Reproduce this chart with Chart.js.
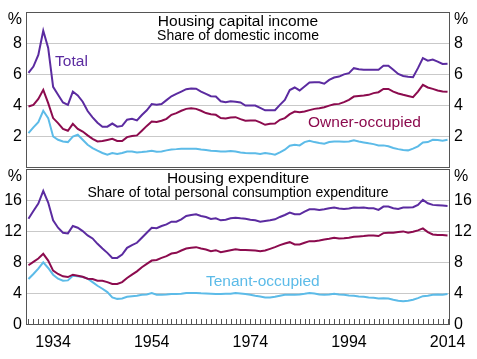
<!DOCTYPE html>
<html>
<head>
<meta charset="utf-8">
<script src="https://cdn.jsdelivr.net/npm/chart.js@4.4.1/dist/chart.umd.min.js"></script>
<style>
  html, body { margin: 0; padding: 0; background: #fff; }
  #wrap { position: relative; width: 477px; height: 359px; }
  #wrap canvas { position: absolute; left: 0; }
  #topPanel { top: 0; }
  #bottomPanel { top: 167px; }
</style>
</head>
<body>
<div id="wrap">
  <canvas id="topPanel" width="477" height="170"></canvas>
  <canvas id="bottomPanel" width="477" height="192"></canvas>
</div>
<script>
// === Data (annual, 1929-2014, per cent) ===
const years = Array.from({ length: 86 }, (_, i) => 1929 + i);
const yearTicks = [1934, 1954, 1974, 1994, 2014];

// Housing capital income, share of domestic income
const totalIncome = [
  6.1, 6.5, 7.25, 8.8, 7.7, 5.2, 4.7, 4.2, 4.05, 4.9,
  4.65, 4.25, 3.65, 3.25, 2.9, 2.65, 2.65, 2.85, 2.65, 2.7,
  3.1, 3.15, 3.05, 3.4, 3.7, 4.1, 4.05, 4.1, 4.35, 4.6,
  4.75, 4.9, 5.05, 5.1, 5.08, 4.9, 4.75, 4.6, 4.58, 4.28,
  4.22, 4.28, 4.25, 4.2, 4.0, 4.0, 4.0, 3.85, 3.7, 3.7,
  3.7, 4.05, 4.37, 5.0, 5.16, 4.97, 5.22, 5.48, 5.5, 5.5,
  5.4, 5.65, 5.8, 5.86, 6.0, 6.08, 6.4, 6.33, 6.3, 6.3,
  6.3, 6.3, 6.55, 6.55, 6.3, 6.03, 5.9, 5.85, 5.82, 6.4,
  7.04, 6.88, 6.95, 6.82, 6.67, 6.69
];
const ownerIncome = [
  3.94, 4.05, 4.43, 5.01, 4.16, 3.2, 2.88, 2.51, 2.39, 2.83,
  2.51, 2.34, 2.09, 1.87, 1.7, 1.73, 1.8, 1.87, 1.73, 1.73,
  1.98, 2.05, 2.09, 2.39, 2.7, 2.98, 2.95, 3.03, 3.15, 3.41,
  3.52, 3.67, 3.79, 3.83, 3.79, 3.67, 3.52, 3.45, 3.41, 3.2,
  3.17, 3.24, 3.26, 3.13, 3.03, 3.05, 3.05, 2.92, 2.77, 2.83,
  2.85, 3.09, 3.2, 3.45, 3.62, 3.58, 3.62, 3.71, 3.79, 3.83,
  3.9, 4.0, 4.09, 4.11, 4.22, 4.37, 4.58, 4.62, 4.65, 4.69,
  4.8, 4.86, 5.07, 5.07, 4.9, 4.78, 4.69, 4.62, 4.54, 4.9,
  5.33, 5.16, 5.07, 4.97, 4.9, 4.88
];
const tenantIncome = [
  2.24, 2.6, 2.94, 3.67, 3.2, 2.02, 1.81, 1.7, 1.66, 2.02,
  2.13, 1.81, 1.49, 1.28, 1.11, 0.96, 0.85, 0.96, 0.9, 0.96,
  1.06, 1.06, 1.0, 1.02, 1.06, 1.11, 1.04, 1.06, 1.13, 1.19,
  1.21, 1.24, 1.24, 1.24, 1.24, 1.19, 1.15, 1.11, 1.09, 1.06,
  1.06, 1.09, 1.06, 1.0, 0.96, 0.94, 0.94, 0.9, 0.96, 0.92,
  0.85, 1.0, 1.17, 1.43, 1.49, 1.45, 1.66, 1.75, 1.66, 1.6,
  1.56, 1.66, 1.7, 1.7, 1.68, 1.7, 1.77, 1.7, 1.64, 1.58,
  1.53, 1.45, 1.45, 1.39, 1.28, 1.21, 1.15, 1.13, 1.24, 1.39,
  1.64, 1.66, 1.81, 1.79, 1.75, 1.81
];

// Housing expenditure, share of total personal consumption expenditure
const totalExp = [
  13.63, 14.62, 15.57, 17.2, 15.7, 13.42, 12.47, 11.83, 11.74, 12.69,
  12.47, 12.04, 11.48, 11.1, 10.41, 9.81, 9.25, 8.6, 8.6, 9.03,
  9.89, 10.25, 10.54, 11.18, 11.83, 12.47, 12.4, 12.69, 12.9, 13.25,
  13.25, 13.55, 13.98, 14.1, 14.19, 13.98, 13.85, 13.6, 13.68, 13.42,
  13.5, 13.68, 13.76, 13.68, 13.63, 13.5, 13.42, 13.25, 13.33, 13.42,
  13.55, 13.85, 14.1, 14.41, 14.19, 14.19, 14.54, 14.84, 14.84, 14.75,
  14.84, 14.97, 15.05, 14.93, 14.88, 14.93, 15.05, 15.02, 15.05, 14.97,
  14.97, 14.75, 15.18, 15.18, 14.97, 14.88, 15.05, 15.05, 15.1, 15.4,
  16.04, 15.61, 15.4, 15.35, 15.31, 15.27
];
const ownerExp = [
  7.66, 8.09, 8.52, 9.12, 8.26, 6.97, 6.54, 6.24, 6.15, 6.45,
  6.32, 6.19, 5.94, 5.9, 5.68, 5.68, 5.5, 5.25, 5.25, 5.5,
  6.02, 6.45, 6.88, 7.4, 7.83, 8.26, 8.34, 8.6, 8.82, 9.16,
  9.25, 9.55, 9.81, 9.9, 9.98, 9.81, 9.68, 9.46, 9.59, 9.33,
  9.46, 9.59, 9.7, 9.63, 9.63, 9.59, 9.55, 9.46, 9.55, 9.76,
  9.98, 10.24, 10.45, 10.62, 10.32, 10.32, 10.54, 10.75, 10.75, 10.84,
  10.97, 11.05, 11.18, 11.1, 11.12, 11.18, 11.31, 11.35, 11.4, 11.48,
  11.48, 11.4, 11.78, 11.83, 11.83, 11.91, 12.0, 11.83, 11.95, 12.13,
  12.39, 11.91, 11.61, 11.53, 11.53, 11.48
];
const tenantExp = [
  5.89, 6.54, 7.22, 8.04, 7.31, 6.45, 5.94, 5.68, 5.72, 6.32,
  6.24, 6.15, 5.94, 5.5, 5.03, 4.65, 4.22, 3.53, 3.35, 3.4,
  3.61, 3.7, 3.74, 3.87, 3.92, 4.09, 3.87, 3.87, 3.9, 3.96,
  3.96, 4.0, 4.1, 4.1, 4.1, 4.06, 4.04, 4.0, 3.96, 3.96,
  4.0, 4.0, 4.1, 4.04, 3.96, 3.87, 3.74, 3.66, 3.53, 3.53,
  3.61, 3.74, 3.87, 3.87, 3.87, 3.92, 4.0, 4.1, 4.04, 3.92,
  3.87, 3.92, 4.0, 3.92, 3.87, 3.78, 3.74, 3.66, 3.61, 3.53,
  3.48, 3.4, 3.44, 3.4, 3.23, 3.1, 3.05, 3.1, 3.23, 3.44,
  3.7, 3.74, 3.87, 3.9, 3.87, 3.96
];

// === Styling ===
const FONT = "Arial, 'Liberation Sans', sans-serif";
const C_TOTAL = '#5b2ba0';
const C_OWNER = '#8c0b4e';
const C_TENANT = '#5cbbe8';
const C_FRAME = '#555555';
const C_GRID = '#c9c9c9';

// frame, "%" unit labels, panel titles and series labels
const panelText = {
  id: 'panelText',
  afterDraw(chart, args, opts) {
    const { ctx, chartArea: a, scales } = chart;
    ctx.save();
    ctx.strokeStyle = C_FRAME;
    ctx.lineWidth = 1;
    ctx.strokeRect(a.left + 0.5, a.top + 0.5, a.right - a.left - 1, a.bottom - a.top - 1);

    if (opts.minorTicks) {
      ctx.beginPath();
      years.forEach((_, i) => {
        const x = Math.round(scales.x.getPixelForValue(i)) + 0.5;
        ctx.moveTo(x, a.bottom);
        ctx.lineTo(x, a.bottom - 6);
      });
      ctx.stroke();
    }

    ctx.fillStyle = '#000';
    ctx.textBaseline = 'middle';
    ctx.font = '16px ' + FONT;
    ctx.textAlign = 'right';
    ctx.fillText('%', a.left - 4, a.top + 8);
    ctx.textAlign = 'left';
    ctx.fillText('%', a.right + 4, a.top + 8);

    const cx = (a.left + a.right) / 2;
    ctx.textAlign = 'center';
    ctx.font = '15.5px ' + FONT;
    ctx.fillText(opts.title, cx, a.top + 10);
    ctx.font = '14px ' + FONT;
    ctx.fillText(opts.subtitle, cx, a.top + 24);

    ctx.font = '15.5px ' + FONT;
    ctx.textAlign = 'left';
    (opts.notes || []).forEach(n => {
      ctx.fillStyle = n.color;
      ctx.fillText(n.text, scales.x.getPixelForValue(n.year - years[0]), scales.y.getPixelForValue(n.value));
    });
    ctx.restore();
  }
};

function lineSet(label, data, color) {
  return {
    label, data,
    borderColor: color,
    backgroundColor: color,
    borderWidth: 2,
    pointRadius: 0,
    tension: 0,
    fill: false
  };
}

function yAxis(position, max, step, hideZero, width) {
  return {
    position,
    min: 0,
    max,
    afterFit(scale) {
      scale.width = width;
      scale.paddingTop = 0;
      scale.paddingBottom = 0;
    },
    border: { display: false },
    grid: {
      drawOnChartArea: position === 'left',
      drawTicks: false,
      color: c => (c.tick.value === 0 || c.tick.value === max) ? 'rgba(0,0,0,0)' : C_GRID
    },
    ticks: {
      stepSize: step,
      padding: 4,
      color: '#000',
      font: { family: FONT, size: 16 },
      callback: v => (v === max || (hideZero && v === 0)) ? '' : v
    }
  };
}

// === Top panel: Housing capital income ===
new Chart(document.getElementById('topPanel'), {
  type: 'line',
  data: {
    labels: years,
    datasets: [
      lineSet('Total', totalIncome, C_TOTAL),
      lineSet('Owner-occupied', ownerIncome, C_OWNER),
      lineSet('Tenant-occupied', tenantIncome, C_TENANT)
    ]
  },
  options: {
    responsive: false,
    devicePixelRatio: 1,
    animation: false,
    layout: { padding: { top: 12, bottom: 2, left: 0, right: 0 } },
    scales: {
      x: { type: 'category', offset: true, display: false },
      y: yAxis('left', 10, 2, true, 26),
      y2: yAxis('right', 10, 2, true, 27)
    },
    plugins: {
      legend: { display: false },
      tooltip: { enabled: false },
      panelText: {
        title: 'Housing capital income',
        subtitle: 'Share of domestic income',
        notes: [
          { text: 'Total', color: C_TOTAL, year: 1934.4, value: 6.8 },
          { text: 'Owner-occupied', color: C_OWNER, year: 1985.7, value: 2.88 }
        ]
      }
    }
  },
  plugins: [panelText]
});

// === Bottom panel: Housing expenditure ===
new Chart(document.getElementById('bottomPanel'), {
  type: 'line',
  data: {
    labels: years,
    datasets: [
      lineSet('Total', totalExp, C_TOTAL),
      lineSet('Owner-occupied', ownerExp, C_OWNER),
      lineSet('Tenant-occupied', tenantExp, C_TENANT)
    ]
  },
  options: {
    responsive: false,
    devicePixelRatio: 1,
    animation: false,
    layout: { padding: { top: 2, bottom: 0, left: 0, right: 0 } },
    scales: {
      x: {
        type: 'category',
        offset: true,
        afterFit(scale) { scale.height = 34; },
        border: { display: false },
        grid: { display: false, drawTicks: false },
        ticks: {
          autoSkip: false,
          maxRotation: 0,
          padding: 8,
          color: '#000',
          font: { family: FONT, size: 16 },
          callback: (v, i) => yearTicks.includes(years[i]) ? String(years[i]) : ''
        }
      },
      y: yAxis('left', 20, 4, false, 26),
      y2: yAxis('right', 20, 4, false, 27)
    },
    plugins: {
      legend: { display: false },
      tooltip: { enabled: false },
      panelText: {
        title: 'Housing expenditure',
        subtitle: 'Share of total personal consumption expenditure',
        minorTicks: true,
        notes: [
          { text: 'Tenant-occupied', color: C_TENANT, year: 1965, value: 5.5 }
        ]
      }
    }
  },
  plugins: [panelText]
});
</script>
</body>
</html>
